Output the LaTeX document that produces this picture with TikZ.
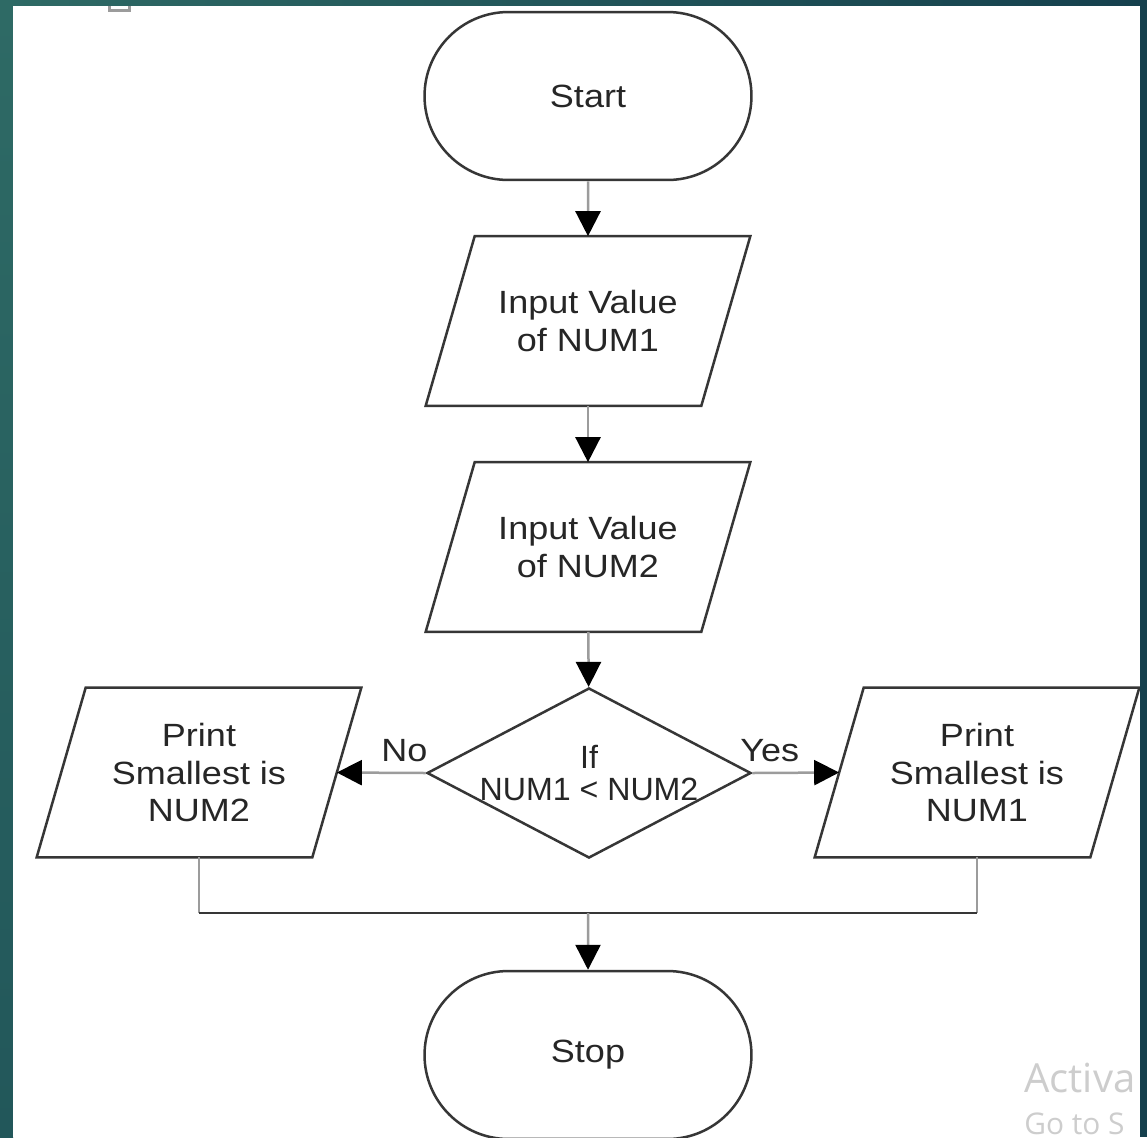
\documentclass[tikz,border=0pt]{standalone}
\usepackage{fontspec}
\setmainfont[FakeStretch=1.12]{Liberation Sans}
\newfontfamily\plainfont{Liberation Sans}
\newfontfamily\wmfont{Open Sans}
\usetikzlibrary{shapes.geometric,shapes.misc,arrows.meta,calc}

\definecolor{edge}{HTML}{363636}
\definecolor{wire}{HTML}{9C9C9C}
\definecolor{ink}{HTML}{262626}
\definecolor{tealA}{HTML}{2E6A65}
\definecolor{tealB}{HTML}{3C7D73}
\definecolor{tealC}{HTML}{22575A}
\definecolor{navy}{HTML}{15404D}
\definecolor{wmgray}{HTML}{CDCDCD}

\tikzset{
  boxfont/.style={font=\fontsize{18.3}{21.5}\selectfont, text=ink, align=center},
  terminal/.style={rounded rectangle, draw=edge, line width=0.05cm, fill=white,
    minimum width=6.54cm, minimum height=3.36cm, inner sep=0pt, boxfont},
  % text area of an input/output box; the slanted frame is drawn by \ioframe
  io/.style={rectangle, minimum width=5.5cm, minimum height=3.38cm,
    inner sep=0pt, boxfont},
  iobox/.style={draw=edge, line width=0.05cm, line join=miter},
  decision/.style={diamond, aspect=1.905, draw=edge, line width=0.05cm, fill=white,
    minimum width=6.44cm, minimum height=3.38cm, inner sep=0pt, boxfont,
    font=\plainfont\fontsize{18.3}{18}\selectfont},
  flow/.style={draw=wire, line width=0.05cm,
    -{Triangle[width=0.5cm,length=0.5cm,color=black]}},
  wirelink/.style={draw=wire, line width=0.05cm},
  joinline/.style={draw=edge, line width=0.05cm},
  lbl/.style={font=\fontsize{18.3}{21.5}\selectfont, text=ink, inner sep=0pt},
  wm/.style={text=wmgray, inner sep=0pt, anchor=west}
}

% parallelogram leaning right around a text node: top edge shifted by half
% the slant to the right, bottom edge by half the slant to the left
\newcommand\ioframe[1]{%
  \draw[iobox] ($(#1.north west)+(24.5,0)$) -- ($(#1.north east)+(24.5,0)$)
    -- ($(#1.south east)+(-24.5,0)$) -- ($(#1.south west)+(-24.5,0)$) -- cycle;}

\begin{document}
\begin{tikzpicture}[x=0.02cm,y=-0.02cm]
  % page frame and slide background
  \useasboundingbox (0,0) rectangle (1147,1137);
  \fill[tealA] (0,0) rectangle (1147,1137);
  \shade[left color=tealA, right color=navy] (0,0) rectangle (1147,6);
  \shade[top color=tealA, middle color=tealB, bottom color=tealC] (0,6) rectangle (13,1137);
  \fill[white] (13,6) rectangle (1140,1137);

  % small handle mark at the top edge
  \draw[wire, line width=0.06cm] (109.5,6) -- (109.5,10.5) -- (129.5,10.5) -- (129.5,6);

  % flowchart nodes
  \node[terminal] (start) at (588,96) {Start};
  \node[io] (in1) at (588,321) {Input Value\\of NUM1};
  \node[io] (in2) at (588,547) {Input Value\\of NUM2};
  \node[decision] (dec) at (589,773) {If\\NUM1 < NUM2};
  \node[io] (pno) at (199,772.5) {Print\\Smallest is\\NUM2};
  \node[io] (pyes) at (977,772.5) {Print\\Smallest is\\NUM1};
  \node[terminal] (stop) at (588,1055) {Stop};
  \coordinate (join) at (588,913);

  \ioframe{in1}
  \ioframe{in2}
  \ioframe{pno}
  \ioframe{pyes}

  % connectors
  \draw[flow] (start) -- (in1);
  \draw[flow] (in1) -- (in2);
  \draw[flow] (in2) -- (dec);
  \draw[flow] (dec.west) -- node[lbl, pos=0.24, above=0.19cm] {No} (pno.east);
  \draw[flow] (dec.east) -- node[lbl, pos=0.2, above=0.19cm] {Yes} (pyes.west);
  \draw[wirelink] (pno.south) -- (pno.south |- join);
  \draw[wirelink] (pyes.south) -- (pyes.south |- join);
  \draw[joinline] (pno.south |- join) -- (pyes.south |- join);
  \draw[flow] (join) -- (stop);

  % system notice in the corner
  \node[wm, font=\wmfont\fontsize{22.8}{24}\selectfont] at (1024,1078) {Activa};
  \node[wm, font=\wmfont\fontsize{17}{18}\selectfont] at (1024,1124) {Go to S};

  % right window edge
  \fill[navy] (1140,0) rectangle (1147,1137);
\end{tikzpicture}
\end{document}
